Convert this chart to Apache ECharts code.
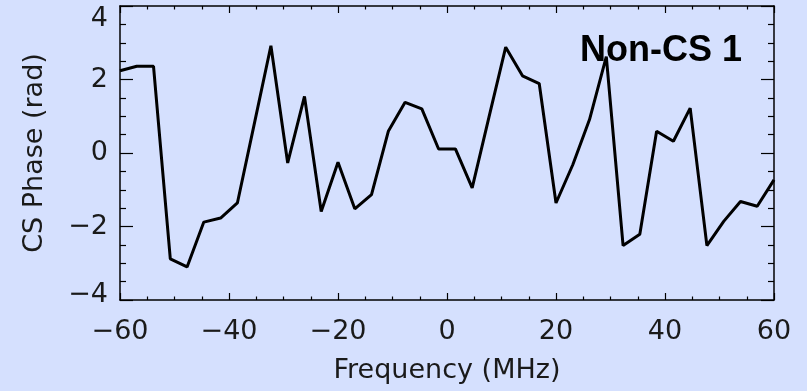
<!DOCTYPE html>
<html>
<head>
<meta charset="utf-8">
<script src="https://cdn.jsdelivr.net/npm/echarts@6/dist/echarts.min.js"></script>
<style>
  html, body { margin: 0; padding: 0; background: #d5e0fe; }
  #chart { width: 807px; height: 391px; }
</style>
</head>
<body>
<div id="chart"></div>
<script>
// frequency channels (MHz) and measured phase (rad)
const freqs = [-60, -56.92, -53.85, -50.77, -47.69, -44.62, -41.54, -38.46, -35.38, -32.31,
  -29.23, -26.15, -23.08, -20, -16.92, -13.85, -10.77, -7.69, -4.62, -1.54,
  1.54, 4.62, 7.69, 10.77, 13.85, 16.92, 20, 23.08, 26.15, 29.23,
  32.31, 35.38, 38.46, 41.54, 44.62, 47.69, 50.77, 53.85, 56.92, 60]
const phases = [2.24, 2.36, 2.36, -2.88, -3.10, -1.88, -1.77, -1.36, 0.78, 2.92,
  -0.27, 1.54, -1.59, -0.25, -1.52, -1.13, 0.59, 1.38, 1.20, 0.11,
  0.11, -0.95, 0.97, 2.88, 2.10, 1.89, -1.36, -0.32, 0.91, 2.62,
  -2.52, -2.21, 0.59, 0.32, 1.22, -2.52, -1.86, -1.32, -1.45, -0.73]
const xRange = [-60, 60]
const yRange = [-4, 4]
const label = 'Non-CS 1'

const chart = echarts.init(document.getElementById('chart'))

const font = 'DejaVu Sans'
const ink = '#1a1a1a'
const fmt = v => (v < 0 ? '\u2212' + Math.abs(v) : String(v))
// end labels of the y axis sit a little inside the box, as in the original
const yFmt = v => {
  if (v === yRange[1]) return '{hi|' + fmt(v) + '}'
  if (v === yRange[0]) return '{lo|' + fmt(v) + '}'
  return fmt(v)
}

const boxAxis = (extra) => Object.assign({
  type: 'value',
  axisLine: { show: true, onZero: false, lineStyle: { color: '#000', width: 1.5 } },
  splitLine: { show: false },
  axisLabel: { show: false },
  axisTick: { show: true, inside: true, lineStyle: { color: '#000', width: 1.2 } },
  minorTick: { show: true, splitNumber: 4, lineStyle: { color: '#000', width: 1.2 } }
}, extra)

const xBase = { min: xRange[0], max: xRange[1], interval: 20 }
const yBase = { min: yRange[0], max: yRange[1], interval: 2 }
const labelText = { fontFamily: font, fontSize: 27, color: ink }

chart.setOption({
  animation: false,
  backgroundColor: '#d5e0fe',
  grid: { left: 120, right: 33, top: 6, bottom: 91, outerBoundsMode: 'none' },
  xAxis: [
    boxAxis(Object.assign({}, xBase, {
      position: 'bottom',
      name: 'Frequency (MHz)',
      nameLocation: 'middle',
      nameGap: 57,
      nameTextStyle: labelText,
      axisLabel: Object.assign({ show: true, margin: 18, formatter: fmt }, labelText),
      axisTick: { show: true, inside: true, length: 7, lineStyle: { color: '#000', width: 1.2 } },
      minorTick: { show: true, splitNumber: 4, length: 3.5, lineStyle: { color: '#000', width: 1.2 } }
    })),
    boxAxis(Object.assign({}, xBase, {
      position: 'top',
      axisTick: { show: true, inside: true, length: 7, lineStyle: { color: '#000', width: 1.2 } },
      minorTick: { show: true, splitNumber: 4, length: 3.5, lineStyle: { color: '#000', width: 1.2 } }
    }))
  ],
  yAxis: [
    boxAxis(Object.assign({}, yBase, {
      position: 'left',
      name: 'CS Phase (rad)',
      nameLocation: 'middle',
      nameRotate: 90,
      nameGap: 72,
      nameTextStyle: labelText,
      axisLabel: Object.assign({
        show: true, margin: 12, formatter: yFmt,
        rich: {
          hi: Object.assign({ padding: [25, 0, 0, 0] }, labelText),
          lo: Object.assign({ padding: [0, 0, 10, 0] }, labelText)
        }
      }, labelText),
      axisTick: { show: true, inside: true, length: 13, lineStyle: { color: '#000', width: 1.2 } },
      minorTick: { show: true, splitNumber: 4, length: 6, lineStyle: { color: '#000', width: 1.2 } }
    })),
    boxAxis(Object.assign({}, yBase, {
      position: 'right',
      axisTick: { show: true, inside: true, length: 13, lineStyle: { color: '#000', width: 1.2 } },
      minorTick: { show: true, splitNumber: 4, length: 6, lineStyle: { color: '#000', width: 1.2 } }
    }))
  ],
  graphic: [{
    type: 'text',
    left: 580,
    top: 33,
    z: 100,
    style: {
      text: label,
      fontFamily: 'Liberation Sans',
      fontWeight: 'bold',
      fontSize: 36,
      fill: '#000'
    }
  }],
  series: [{
    type: 'line',
    xAxisIndex: 0,
    yAxisIndex: 0,
    data: freqs.map((f, i) => [f, phases[i]]),
    showSymbol: false,
    symbol: 'none',
    lineStyle: { color: '#000', width: 3 },
    z: 3
  }]
})
</script>
</body>
</html>
